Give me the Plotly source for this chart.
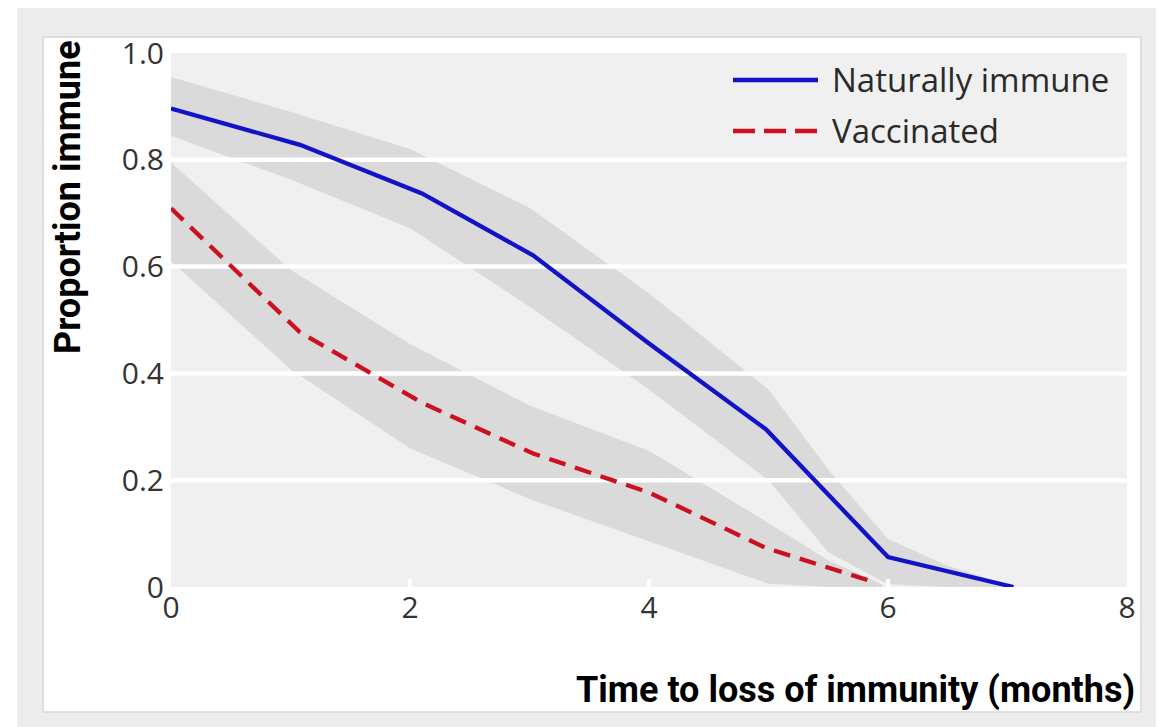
import plotly.graph_objects as go

# ---------------- data ----------------
nat_x = [0, 1.08, 2.1, 3.03, 4.0, 4.98, 6.0, 7.05]
nat_y = [0.896, 0.828, 0.737, 0.621, 0.456, 0.295, 0.056, 0.0]

vac_x = [0, 1.08, 2.1, 3.03, 4.0, 4.98, 5.9]
vac_y = [0.709, 0.477, 0.345, 0.25, 0.177, 0.073, 0.008]

nat_band_x = [0, 1, 2, 3, 4, 5, 5.5, 6, 6.5, 7.05]
nat_upper = [0.955, 0.89, 0.82, 0.71, 0.55, 0.37, 0.22, 0.09, 0.04, 0.0]
nat_lower = [0.845, 0.763, 0.672, 0.525, 0.37, 0.2, 0.065, 0.005, 0.0, 0.0]

vac_band_x = [0, 1, 2, 3, 4, 5, 5.5, 5.95]
vac_upper = [0.795, 0.594, 0.455, 0.34, 0.255, 0.12, 0.05, 0.005]
vac_lower = [0.61, 0.408, 0.26, 0.165, 0.085, 0.006, 0.0, 0.0]

x_ticks = [0, 2, 4, 6, 8]
x_tick_labels = ["0", "2", "4", "6", "8"]
y_ticks = [0, 0.2, 0.4, 0.6, 0.8, 1.0]
y_tick_labels = ["0", "0.2", "0.4", "0.6", "0.8", "1.0"]

series_names = ["Naturally immune", "Vaccinated"]
x_range = [0, 8]
y_range = [0, 1]

# ---------------- style ----------------
BLUE = "#1212c8"
RED = "#cc1020"
BAND = "#dadada"
PLOT_BG = "#f0f0f0"
FRAME = "#ececec"
TICK_FONT = dict(family="Open Sans", size=30, color="#333333", weight=400)
TITLE_FONT = dict(family="Roboto", size=36, color="#000000", weight=700)
LEG_FONT = dict(family="Open Sans", size=33, color="#2a2a2a", weight=400)

fig = go.Figure()

# confidence bands
fig.add_trace(go.Scatter(
    x=nat_band_x + nat_band_x[::-1], y=nat_upper + nat_lower[::-1],
    fill="toself", fillcolor=BAND, line=dict(width=0), mode="lines",
    hoverinfo="skip", showlegend=False))
fig.add_trace(go.Scatter(
    x=vac_band_x + vac_band_x[::-1], y=vac_upper + vac_lower[::-1],
    fill="toself", fillcolor=BAND, line=dict(width=0), mode="lines",
    hoverinfo="skip", showlegend=False))

# white gridlines (above bands, below lines)
for t in y_ticks[1:-1]:
    fig.add_trace(go.Scatter(
        x=x_range, y=[t, t], mode="lines",
        line=dict(color="white", width=4.5),
        hoverinfo="skip", showlegend=False))

# series lines
fig.add_trace(go.Scatter(
    x=nat_x, y=nat_y, mode="lines", name=series_names[0],
    line=dict(color=BLUE, width=4.3), showlegend=False))
fig.add_trace(go.Scatter(
    x=vac_x, y=vac_y, mode="lines", name=series_names[1],
    line=dict(color=RED, width=4.3, dash="17px,10px"), showlegend=False))

# ---------------- layout ----------------
OFF = 8  # page body margin
W, H = 1164 - OFF, 727 - OFF
L, T = 171 - OFF, 53 - OFF
R = W - (1127 - OFF)
B = H - (587 - OFF)
pw, ph = W - L - R, H - T - B


def px(xp):
    return (xp - OFF - L) / pw


def py(yp):
    return (H - B - (yp - OFF)) / ph


shapes = [
    # outer grey frame
    dict(type="rect", xref="paper", yref="paper",
         x0=px(17), x1=px(1170), y0=py(740), y1=py(4),
         fillcolor=FRAME, line=dict(width=0), layer="below"),
    # inner white panel
    dict(type="rect", xref="paper", yref="paper",
         x0=px(43), x1=px(1141), y0=py(712), y1=py(37),
         fillcolor="white", line=dict(color="#d6d6d6", width=1.5), layer="below"),
    # plot background
    dict(type="rect", xref="x", yref="y",
         x0=x_range[0], x1=x_range[1], y0=y_range[0], y1=y_range[1],
         fillcolor=PLOT_BG, line=dict(width=0), layer="below"),
    # legend samples
    dict(type="line", xref="paper", yref="paper",
         x0=px(733), x1=px(818), y0=py(80), y1=py(80),
         line=dict(color=BLUE, width=4.3)),
    dict(type="line", xref="paper", yref="paper",
         x0=px(733), x1=px(818), y0=py(131), y1=py(131),
         line=dict(color=RED, width=4.3, dash="22px,9px")),
]

annotations = [
    dict(text=series_names[0], xref="paper", yref="paper",
         x=px(830), y=py(79), xanchor="left", yanchor="middle",
         showarrow=False, font=LEG_FONT),
    dict(text=series_names[1], xref="paper", yref="paper",
         x=px(830), y=py(130), xanchor="left", yanchor="middle",
         showarrow=False, font=LEG_FONT),
    dict(text="Proportion immune", xref="paper", yref="paper",
         x=px(68), y=py(38), xanchor="center", yanchor="top",
         textangle=-90, showarrow=False, font=TITLE_FONT),
    dict(text="Time to loss of immunity (months)", xref="paper", yref="paper",
         x=px(1137), y=py(690), xanchor="right", yanchor="middle",
         showarrow=False, font=TITLE_FONT),
]

fig.update_layout(
    width=W, height=H,
    margin=dict(l=L, r=R, t=T, b=B, pad=0),
    paper_bgcolor="white",
    plot_bgcolor="rgba(0,0,0,0)",
    shapes=shapes,
    annotations=annotations,
    showlegend=False,
)
fig.update_xaxes(
    range=x_range, tickvals=x_ticks, ticktext=x_tick_labels,
    showgrid=False, zeroline=False, showline=False,
    ticks="inside", ticklen=8, tickwidth=4, tickcolor="white",
    tickfont=TICK_FONT, fixedrange=True,
)
fig.update_yaxes(
    range=y_range, tickvals=y_ticks, ticktext=y_tick_labels,
    showgrid=False, zeroline=False, showline=False,
    ticks="", tickfont=TICK_FONT, ticklabelstandoff=6, fixedrange=True,
)

fig.write_html("out.html")
